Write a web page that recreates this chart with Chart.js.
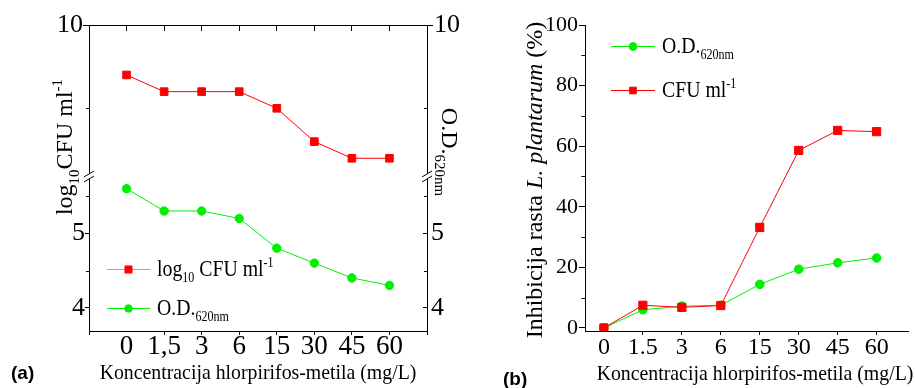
<!DOCTYPE html>
<html>
<head>
<meta charset="utf-8">
<script src="https://cdn.jsdelivr.net/npm/chart.js@4.4.0/dist/chart.umd.min.js"></script>
<style>
  html, body { margin: 0; padding: 0; background: #fff; }
  #wrap { position: relative; width: 915px; height: 388px; overflow: hidden; }
  #chart-a { position: absolute; left: 0; top: 0; }
  #chart-b { position: absolute; left: 460px; top: 0; }
</style>
</head>
<body>
<div id="wrap">
  <canvas id="chart-a" width="460" height="388"></canvas>
  <canvas id="chart-b" width="455" height="388"></canvas>
</div>
<script>
// ── Data ───────────────────────────────────────────────────────────────────
const concLabelsA = ['0', '1,5', '3', '6', '15', '30', '45', '60'];
const concLabelsB = ['0', '1.5', '3', '6', '15', '30', '45', '60'];

// panel (a): growth at each concentration
const logCfu   = [9.4, 9.2, 9.2, 9.2, 9.0, 8.6, 8.4, 8.4];
const odValues = [5.6, 5.3, 5.3, 5.2, 4.8, 4.6, 4.4, 4.3];

// panel (b): inhibition in %
const inhibCfu = [0, 7.5, 6.8, 7.4, 33.2, 58.6, 65.2, 64.8];
const inhibOd  = [0, 6.0, 7.2, 7.5, 14.4, 19.4, 21.5, 23.1];

// axis ticks
const upperMajor = [10];
const upperMinor = [9];
const lowerMajor = [5, 4];
const lowerMinor = [5.5, 4.5];
const pctMajor = [0, 20, 40, 60, 80, 100];
const pctMinor = [10, 30, 50, 70, 90];

const RED = '#ff0000';
const GREEN = '#00f000';
const SERIF = '"Liberation Serif", "Times New Roman", serif';

Chart.defaults.color = '#000';
Chart.defaults.font.family = SERIF;

const pts = arr => arr.map((v, i) => ({ x: i, y: v }));
const fixTicks = vals => scale => { scale.ticks = vals.map(v => ({ value: v })); };
const range = (a, b) => Array.from({ length: b - a + 1 }, (_, i) => a + i);

// ── Rich text (sub/superscripts, italics) ───────────────────────────────────
function runFont(r, size) {
  const s = (r.sub || r.sup) ? Math.round(size * 0.62) : size;
  return `${r.italic ? 'italic ' : ''}${s}px ${SERIF}`;
}

function drawRich(ctx, runs, { x, y, size, angle = 0, align = 'left', sx = 1 }) {
  ctx.save();
  ctx.translate(x, y);
  ctx.rotate(angle);
  ctx.scale(sx, 1);
  ctx.fillStyle = '#000';
  ctx.textBaseline = 'alphabetic';
  ctx.textAlign = 'left';
  let w = 0;
  runs.forEach(r => { ctx.font = runFont(r, size); w += ctx.measureText(r.t).width; });
  let cx = align === 'center' ? -w / 2 : 0;
  runs.forEach(r => {
    ctx.font = runFont(r, size);
    const dy = r.sub ? size * 0.28 : r.sup ? -size * 0.4 : 0;
    ctx.fillText(r.t, cx, dy);
    cx += ctx.measureText(r.t).width;
  });
  ctx.restore();
}

function drawLegendRow(ctx, ds, row) {
  ctx.save();
  ctx.strokeStyle = row.lineColor || ds.borderColor;
  ctx.lineWidth = 1;
  ctx.beginPath();
  ctx.moveTo(row.x0, row.y + 0.5);
  ctx.lineTo(row.x1, row.y + 0.5);
  ctx.stroke();
  ctx.fillStyle = ds.backgroundColor;
  ctx.strokeStyle = ds.borderColor;
  Chart.helpers.drawPoint(ctx, { pointStyle: ds.pointStyle, radius: row.radius, borderWidth: 1, rotation: 0 },
    (row.x0 + row.x1) / 2, row.y + 0.5);
  ctx.restore();
  drawRich(ctx, row.runs, { x: row.tx, y: row.y + 7, size: 23, sx: 0.86 });
}

function drawPanelLabel(ctx, text, x, y) {
  ctx.save();
  ctx.font = 'bold 19px "Liberation Sans", Arial, sans-serif';
  ctx.fillStyle = '#000';
  ctx.textBaseline = 'alphabetic';
  ctx.fillText(text, x, y);
  ctx.restore();
}

// short unlabelled ticks between the labelled ones
function minorTicks(list) {
  return {
    id: 'minorTicks',
    afterDraw(chart) {
      const ctx = chart.ctx;
      ctx.save();
      ctx.strokeStyle = '#000';
      ctx.lineWidth = 1;
      list.forEach(({ id, values, len }) => {
        const s = chart.scales[id];
        const x = s.position === 'left' ? s.right : s.left;
        values.forEach(v => {
          const y = Math.round(s.getPixelForValue(v)) + 0.5;
          ctx.beginPath();
          ctx.moveTo(x, y);
          ctx.lineTo(x + len, y);
          ctx.stroke();
        });
      });
      ctx.restore();
    }
  };
}

const baseGrid = { drawOnChartArea: false, drawTicks: true, color: '#000', lineWidth: 1 };
const baseBorder = { display: true, color: '#000', width: 1 };

// ── Panel (a): broken left/right axes ──────────────────────────────────────
const upperRange = { min: 8.175, max: 10 };
const lowerRange = { min: 3.687, max: 5.757 };

const cfuSetA = {
  label: 'log10 CFU ml-1',
  data: pts(logCfu),
  xAxisID: 'x',
  yAxisID: 'yUp',
  borderColor: RED,
  backgroundColor: RED,
  borderWidth: 1,
  pointStyle: 'rect',
  pointRadius: 5.4,
  pointBorderWidth: 1,
  tension: 0,
};
const odSetA = {
  label: 'O.D.620nm',
  data: pts(odValues),
  xAxisID: 'x',
  yAxisID: 'yLow',
  borderColor: GREEN,
  backgroundColor: GREEN,
  borderWidth: 1,
  pointStyle: 'circle',
  pointRadius: 4.2,
  pointBorderWidth: 1,
  tension: 0,
};

const decorA = {
  id: 'decorA',
  afterDraw(chart) {
    const ctx = chart.ctx;
    const area = chart.chartArea;
    const yb = chart.scales.yUp.bottom;

    // axis break marks
    ctx.save();
    [area.left, area.right].forEach(x => {
      ctx.fillStyle = '#fff';
      ctx.beginPath();
      ctx.moveTo(x - 5, yb); ctx.lineTo(x + 5, yb - 6);
      ctx.lineTo(x + 5, yb - 1); ctx.lineTo(x - 5, yb + 5);
      ctx.closePath();
      ctx.fill();
      ctx.strokeStyle = '#000';
      ctx.lineWidth = 1;
      ctx.beginPath();
      ctx.moveTo(x - 5, yb); ctx.lineTo(x + 5, yb - 6);
      ctx.moveTo(x - 5, yb + 5); ctx.lineTo(x + 5, yb - 1);
      ctx.stroke();
    });
    ctx.restore();

    // axis titles
    drawRich(ctx, [{ t: 'log' }, { t: '10', sub: true }, { t: 'CFU ml' }, { t: '-1', sup: true }],
      { x: 72, y: 147, size: 24, angle: -Math.PI / 2, align: 'center' });
    drawRich(ctx, [{ t: 'O.D.' }, { t: '620nm', sub: true }],
      { x: 442, y: 152, size: 24, angle: Math.PI / 2, align: 'center' });
    drawRich(ctx, [{ t: 'Koncentracija hlorpirifos-metila (mg/L)' }],
      { x: 258, y: 379, size: 22, align: 'center', sx: 0.9 });

    // legend
    drawLegendRow(ctx, cfuSetA, {
      x0: 107, x1: 150, y: 269, tx: 157, radius: 5, lineColor: 'rgba(255,0,0,0.5)',
      runs: [{ t: 'log' }, { t: '10', sub: true }, { t: ' CFU ml' }, { t: '-1', sup: true }]
    });
    drawLegendRow(ctx, odSetA, {
      x0: 107, x1: 150, y: 308, tx: 157, radius: 3.8,
      runs: [{ t: 'O.D.' }, { t: '620nm', sub: true }]
    });

    drawPanelLabel(ctx, '(a)', 11, 379);
  }
};

const chartA = new Chart(document.getElementById('chart-a'), {
  type: 'line',
  data: { datasets: [cfuSetA, odSetA] },
  options: {
    responsive: false,
    animation: false,
    events: [],
    layout: { padding: 0 },
    plugins: { legend: { display: false }, tooltip: { enabled: false }, title: { display: false } },
    scales: {
      x: {
        type: 'linear', position: 'bottom', min: -1, max: 8,
        afterBuildTicks: fixTicks(range(-1, 8)),
        afterFit: s => { s.height = 57; },
        border: baseBorder,
        grid: { ...baseGrid, tickLength: 4, color: c => (c.tick && c.tick.value === 0 ? 'rgba(0,0,0,0)' : '#000') },
        ticks: {
          callback: v => concLabelsA[v] ?? '',
          font: { size: 27, lineHeight: 1 }, padding: -2, maxRotation: 0, autoSkip: false,
        },
      },
      xTop: {
        type: 'linear', position: 'top', min: -1, max: 8,
        afterBuildTicks: fixTicks(range(0, 7)),
        afterFit: s => { s.height = 25; },
        border: baseBorder,
        grid: { ...baseGrid, tickLength: -6 },
        ticks: { display: false },
      },
      yLow: {
        type: 'linear', position: 'left', stack: 'left', stackWeight: 154, ...lowerRange,
        afterBuildTicks: fixTicks(lowerMajor),
        afterFit: s => { s.width = 89; },
        border: baseBorder,
        grid: { ...baseGrid, tickLength: 4 },
        ticks: { font: { size: 26 }, padding: 0 },
      },
      yUp: {
        type: 'linear', position: 'left', stack: 'left', stackWeight: 152, ...upperRange,
        afterBuildTicks: fixTicks(upperMajor),
        afterFit: s => { s.width = 89; },
        border: baseBorder,
        grid: { ...baseGrid, tickLength: 6 },
        ticks: { font: { size: 26 }, padding: 0 },
      },
      yUpR: {
        type: 'linear', position: 'right', stack: 'right', stackWeight: 152, ...upperRange,
        afterBuildTicks: fixTicks(upperMajor),
        afterFit: s => { s.width = 33; },
        border: baseBorder,
        grid: { ...baseGrid, tickLength: 6 },
        ticks: { font: { size: 26 }, padding: 1 },
      },
      yLowR: {
        type: 'linear', position: 'right', stack: 'right', stackWeight: 154, ...lowerRange,
        afterBuildTicks: fixTicks(lowerMajor),
        afterFit: s => { s.width = 33; },
        border: baseBorder,
        grid: { ...baseGrid, tickLength: -4 },
        ticks: { font: { size: 26 }, padding: 8 },
      },
    },
  },
  plugins: [
    minorTicks([
      { id: 'yUp', values: upperMinor, len: -3 },
      { id: 'yLow', values: lowerMinor, len: -3 },
      { id: 'yUpR', values: upperMinor, len: -3 },
      { id: 'yLowR', values: lowerMinor, len: -3 },
    ]),
    decorA,
  ],
});

// ── Panel (b): inhibition ──────────────────────────────────────────────────
const cfuSetB = {
  label: 'CFU ml-1',
  data: pts(inhibCfu),
  borderColor: RED,
  backgroundColor: RED,
  borderWidth: 1,
  pointStyle: 'rect',
  pointRadius: 5.8,
  pointBorderWidth: 1,
  tension: 0,
};
const odSetB = {
  label: 'O.D.620nm',
  data: pts(inhibOd),
  borderColor: GREEN,
  backgroundColor: GREEN,
  borderWidth: 1,
  pointStyle: 'circle',
  pointRadius: 4.3,
  pointBorderWidth: 1,
  tension: 0,
};

const decorB = {
  id: 'decorB',
  afterDraw(chart) {
    const ctx = chart.ctx;
    drawRich(ctx, [{ t: 'Inhibicija rasta ' }, { t: 'L. plantarum', italic: true }, { t: ' (%)' }],
      { x: 82, y: 180, size: 24, angle: -Math.PI / 2, align: 'center' });
    drawRich(ctx, [{ t: 'Koncentracija hlorpirifos-metila (mg/L)' }],
      { x: 295, y: 380, size: 22, align: 'center', sx: 0.9 });

    drawLegendRow(ctx, odSetB, {
      x0: 151, x1: 195, y: 46, tx: 202, radius: 3.9,
      runs: [{ t: 'O.D.' }, { t: '620nm', sub: true }]
    });
    drawLegendRow(ctx, cfuSetB, {
      x0: 151, x1: 195, y: 90, tx: 202, radius: 4.7,
      runs: [{ t: 'CFU ml' }, { t: '-1', sup: true }]
    });

    drawPanelLabel(ctx, '(b)', 43, 385);
  }
};

const chartB = new Chart(document.getElementById('chart-b'), {
  type: 'line',
  data: { datasets: [cfuSetB, odSetB] },
  options: {
    responsive: false,
    animation: false,
    events: [],
    layout: { padding: { top: 25, right: 0, left: 0, bottom: 0 } },
    plugins: { legend: { display: false }, tooltip: { enabled: false }, title: { display: false } },
    scales: {
      x: {
        type: 'linear', position: 'bottom', min: -0.485, max: 7.81,
        afterBuildTicks: fixTicks(range(0, 7)),
        afterFit: s => { s.height = 57; },
        border: baseBorder,
        grid: { ...baseGrid, tickLength: 4, color: c => (c.tick && c.tick.value === 0 ? 'rgba(0,0,0,0)' : '#000') },
        ticks: {
          callback: v => concLabelsB[v] ?? '',
          font: { size: 24, lineHeight: 1 }, padding: 1, maxRotation: 0, autoSkip: false,
        },
      },
      y: {
        type: 'linear', position: 'left', min: -1, max: 100,
        afterBuildTicks: fixTicks(pctMajor),
        afterFit: s => { s.width = 125; },
        border: baseBorder,
        grid: { ...baseGrid, tickLength: 6 },
        ticks: { font: { size: 22 }, padding: 1 },
      },
    },
  },
  plugins: [
    minorTicks([{ id: 'y', values: pctMinor, len: -3.5 }]),
    decorB,
  ],
});
</script>
</body>
</html>
